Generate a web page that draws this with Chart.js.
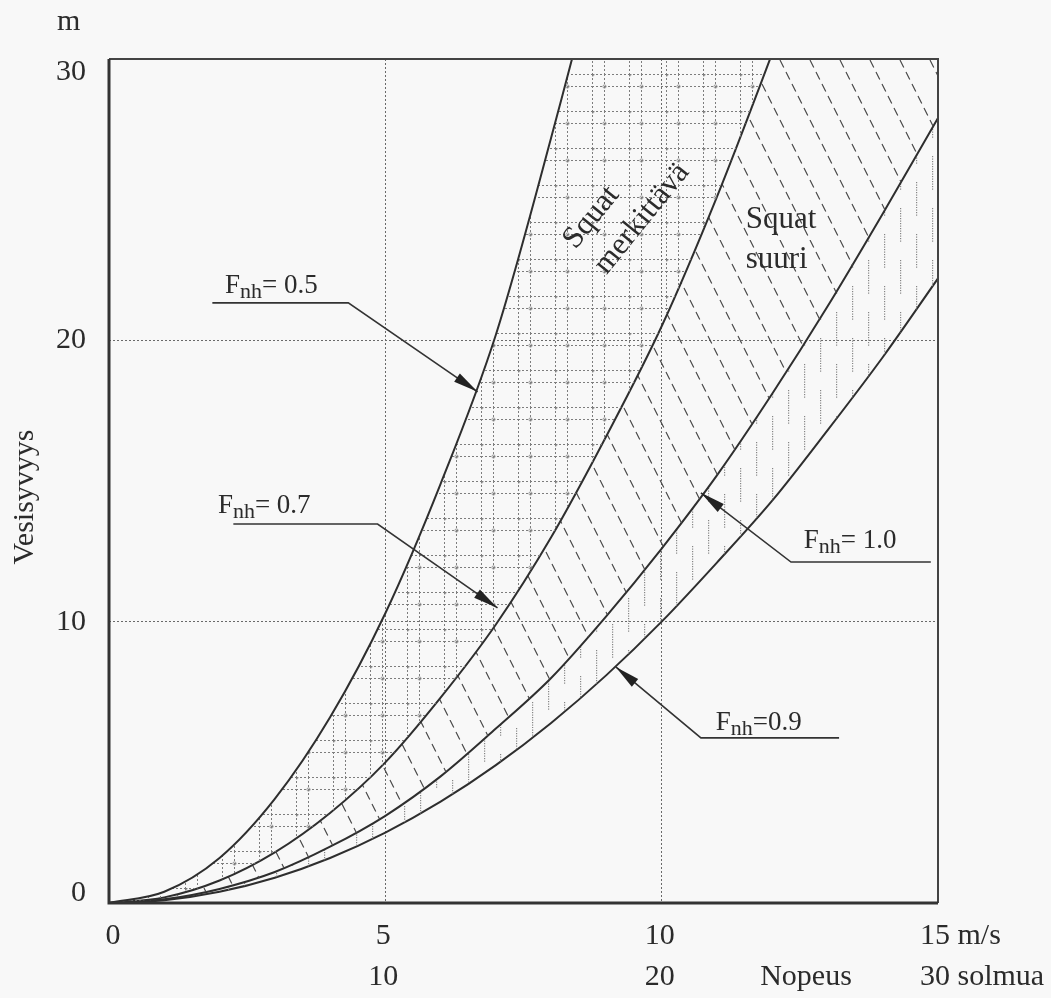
<!DOCTYPE html>
<html>
<head>
<meta charset="utf-8">
<script src="https://cdn.jsdelivr.net/npm/chart.js@4.4.1/dist/chart.umd.min.js"></script>
<style>
  html, body { margin: 0; padding: 0; background: #f8f8f8; }
  canvas { display: block; }
</style>
</head>
<body>
<canvas id="squatChart" width="1051" height="998"></canvas>
<script>
// Nopeus (m/s) and vesisyvyys (m)
const speed = [0, 1, 2, 3, 4, 5, 6, 7, 8, 9, 10, 11, 12, 13, 14, 15];
const depthFnh05 = [0, 0.4, 1.6, 3.7, 6.6, 10.3, 14.9, 20.2, 27.2, 34.8, 43.0, 52.0, 62.0, 72.5, 84.0, 96.0];
const depthFnh07 = [0, 0.2, 0.8, 1.8, 3.2, 5.0, 7.3, 9.9, 13.0, 16.6, 20.5, 25.1, 30.2, 35.5, 41.0, 47.0];
const depthFnh09 = [0, 0.13, 0.5, 1.1, 2.0, 3.1, 4.5, 6.2, 8.0, 10.2, 12.6, 15.2, 18.1, 21.2, 24.5, 27.9];
const depthFnh10 = [0, 0.1, 0.4, 0.9, 1.6, 2.5, 3.6, 4.9, 6.4, 8.1, 10.0, 12.1, 14.3, 16.8, 19.4, 22.2];

const xTicks = [0, 5, 10, 15];
const xTickLabels = ["0", "5", "10", "15"];
const knotLabels = ["", "10", "20", "30"];
const yTicks = [0, 10, 20, 30];

const SERIF = '"Liberation Serif", "Times New Roman", serif';
const INK = "#2b2b2b";

/* ---------------- hatch patterns ---------------- */

const makeTile = (w, h, draw) => {
    const c = document.createElement("canvas");
    c.width = w;
    c.height = h;
    const g = c.getContext("2d");
    draw(g, w, h);
    return g.createPattern(c, "repeat");
};

// dotted square grid, lines in pairs
const gridHatch = makeTile(37, 37, (g, w, h) => {
    g.strokeStyle = "#7d7d7d";
    g.lineWidth = 1;
    g.setLineDash([2, 2]);
    [0.5, 12.5].forEach(p => {
        g.beginPath(); g.moveTo(p, 0); g.lineTo(p, h); g.stroke();
        g.beginPath(); g.moveTo(0, p); g.lineTo(w, p); g.stroke();
    });
    g.setLineDash([]);
    g.lineWidth = 0.8;
    [[0.5, 0.5], [12.5, 12.5]].forEach(([x, y]) => {
        g.beginPath(); g.arc(x, y, 1.6, 0, Math.PI * 2); g.stroke();
    });
});

// dashed diagonals, down to the right
const diagHatch = makeTile(120, 240, (g, w, h) => {
    g.strokeStyle = "#4a4a4a";
    g.lineWidth = 1.2;
    const len = Math.hypot(120, 240);
    g.setLineDash([8.4, len / 20 - 8.4]);
    for (let k = -4; k <= 4; k++) {
        g.beginPath();
        g.moveTo(30 * k, 0);
        g.lineTo(30 * k + 120, 240);
        g.stroke();
    }
});

// short vertical dotted strokes
const vertHatch = makeTile(32, 52, (g, w, h) => {
    g.fillStyle = "#858585";
    for (let y = 0; y < 34; y += 2.5) g.fillRect(4, y, 1.2, 1.2);
    for (let y = 26; y < 60; y += 2.5) g.fillRect(20, y % h, 1.2, 1.2);
});

/* ---------------- annotations ---------------- */

const fnhNotes = [
    { value: "= 0.5", at: [2.10, 21.68], path: [[1.87, 21.33], [4.33, 21.33], [6.67, 18.17]] },
    { value: "= 0.7", at: [1.97, 13.86], path: [[2.25, 13.47], [4.86, 13.47], [7.03, 10.49]] },
    { value: "= 1.0", at: [12.57, 12.62], path: [[14.87, 12.12], [12.34, 12.12], [10.71, 14.58]] },
    { value: "=0.9", at: [10.98, 6.15], path: [[13.21, 5.87], [10.71, 5.87], [9.17, 8.39]] }
];

const squatPlugin = {
    id: "squatDecor",
    afterDraw(chart) {
        const ctx = chart.ctx;
        const sx = chart.scales.x;
        const sy = chart.scales.y;
        const px = v => sx.getPixelForValue(v);
        const py = v => sy.getPixelForValue(v);
        const area = chart.chartArea;

        ctx.save();

        // frame
        ctx.strokeStyle = "#444";
        ctx.lineWidth = 2;
        ctx.beginPath();
        ctx.moveTo(area.left, area.top);
        ctx.lineTo(area.right, area.top);
        ctx.lineTo(area.right, area.bottom);
        ctx.stroke();
        ctx.strokeStyle = "#333";
        ctx.lineWidth = 3;
        ctx.beginPath();
        ctx.moveTo(area.left, area.top);
        ctx.lineTo(area.left, area.bottom);
        ctx.lineTo(area.right, area.bottom);
        ctx.stroke();

        // tick labels (end ones pulled inside like the original)
        ctx.fillStyle = INK;
        ctx.font = "30px " + SERIF;
        ctx.textBaseline = "middle";
        ctx.textAlign = "right";
        yTicks.forEach((t, i) => {
            let y = py(t);
            if (i === 0) y -= 10;
            if (i === yTicks.length - 1) y += 13;
            ctx.fillText(String(t), area.left - 23, y);
        });

        ctx.textAlign = "center";
        xTicks.forEach((t, i) => {
            const x = px(t);
            if (i === xTicks.length - 1) {
                ctx.textAlign = "left";
                ctx.fillText(xTickLabels[i] + " m/s", x - ctx.measureText(xTickLabels[i]).width / 2 - 3, area.bottom + 33);
                ctx.fillText(knotLabels[i] + " solmua", x - ctx.measureText(knotLabels[i]).width / 2 - 3, area.bottom + 74);
                ctx.textAlign = "center";
            } else {
                const shift = i === 0 ? 4 : -2;
                ctx.fillText(xTickLabels[i], x + shift, area.bottom + 33);
                if (knotLabels[i]) ctx.fillText(knotLabels[i], x + shift, area.bottom + 74);
            }
        });
        ctx.fillText("Nopeus", 806, area.bottom + 74);

        // axis titles
        ctx.textAlign = "left";
        ctx.textBaseline = "alphabetic";
        ctx.fillText("m", 57, 30);
        ctx.save();
        ctx.translate(33, 497);
        ctx.rotate(-Math.PI / 2);
        ctx.textAlign = "center";
        ctx.fillText("Vesisyvyys", 0, 0);
        ctx.restore();

        // region names
        ctx.font = "31px " + SERIF;
        ctx.fillText("Squat", px(11.52), py(24.0));
        ctx.fillText("suuri", px(11.52), py(22.57));
        ctx.save();
        ctx.translate(px(8.44), py(23.21));
        ctx.rotate(-51 * Math.PI / 180);
        ctx.fillText("Squat", 0, 0);
        ctx.fillText("merkittävä", 0, 40);
        ctx.restore();

        // Fnh leaders with arrow heads
        fnhNotes.forEach(note => {
            const pts = note.path.map(([x, y]) => [px(x), py(y)]);
            ctx.strokeStyle = "#333";
            ctx.lineWidth = 1.6;
            ctx.beginPath();
            pts.forEach(([x, y], i) => (i ? ctx.lineTo(x, y) : ctx.moveTo(x, y)));
            ctx.stroke();

            const [tx, ty] = pts[2];
            const [ex, ey] = pts[1];
            const d = Math.hypot(tx - ex, ty - ey);
            const ux = (tx - ex) / d, uy = (ty - ey) / d;
            const bx = tx - ux * 25, by = ty - uy * 25;
            ctx.fillStyle = "#222";
            ctx.beginPath();
            ctx.moveTo(tx, ty);
            ctx.lineTo(bx - uy * 5, by + ux * 5);
            ctx.lineTo(bx + uy * 5, by - ux * 5);
            ctx.closePath();
            ctx.fill();

            let x = px(note.at[0]);
            const y = py(note.at[1]);
            ctx.fillStyle = INK;
            ctx.font = "27px " + SERIF;
            ctx.fillText("F", x, y);
            x += ctx.measureText("F").width;
            ctx.font = "22px " + SERIF;
            ctx.fillText("nh", x, y + 5);
            x += ctx.measureText("nh").width;
            ctx.font = "27px " + SERIF;
            ctx.fillText(note.value, x, y);
        });

        ctx.restore();
    }
};

/* ---------------- chart ---------------- */

const toPoints = arr => speed.map((v, i) => ({ x: v, y: arr[i] }));

const curve = (label, arr, fill, pattern) => ({
    label,
    data: toPoints(arr),
    borderColor: "#2e2e2e",
    borderWidth: 2,
    pointRadius: 0,
    cubicInterpolationMode: "monotone",
    fill,
    backgroundColor: pattern || "transparent"
});

new Chart(document.getElementById("squatChart"), {
    type: "line",
    data: {
        datasets: [
            curve("Fnh = 0.5", depthFnh05, "+1", gridHatch),
            curve("Fnh = 0.7", depthFnh07, "+1", diagHatch),
            curve("Fnh = 0.9", depthFnh09, "+1", vertHatch),
            curve("Fnh = 1.0", depthFnh10, false)
        ]
    },
    options: {
        responsive: false,
        animation: false,
        layout: { padding: { left: 109, right: 113, top: 59, bottom: 95 } },
        plugins: {
            legend: { display: false },
            tooltip: { enabled: false }
        },
        scales: {
            x: {
                type: "linear",
                min: 0,
                max: 15,
                ticks: { display: false, stepSize: 5 },
                grid: {
                    drawTicks: false,
                    color: c => (c.tick && (c.tick.value === 5 || c.tick.value === 10) ? "#6a6a6a" : "transparent")
                },
                border: { display: false, dash: [2, 2] },
                afterFit: s => { s.height = 0; }
            },
            y: {
                min: 0,
                max: 30,
                ticks: { display: false, stepSize: 10 },
                grid: {
                    drawTicks: false,
                    color: c => (c.tick && (c.tick.value === 10 || c.tick.value === 20) ? "#6a6a6a" : "transparent")
                },
                border: { display: false, dash: [2, 2] },
                afterFit: s => { s.width = 0; }
            }
        }
    },
    plugins: [squatPlugin]
});
</script>
</body>
</html>
